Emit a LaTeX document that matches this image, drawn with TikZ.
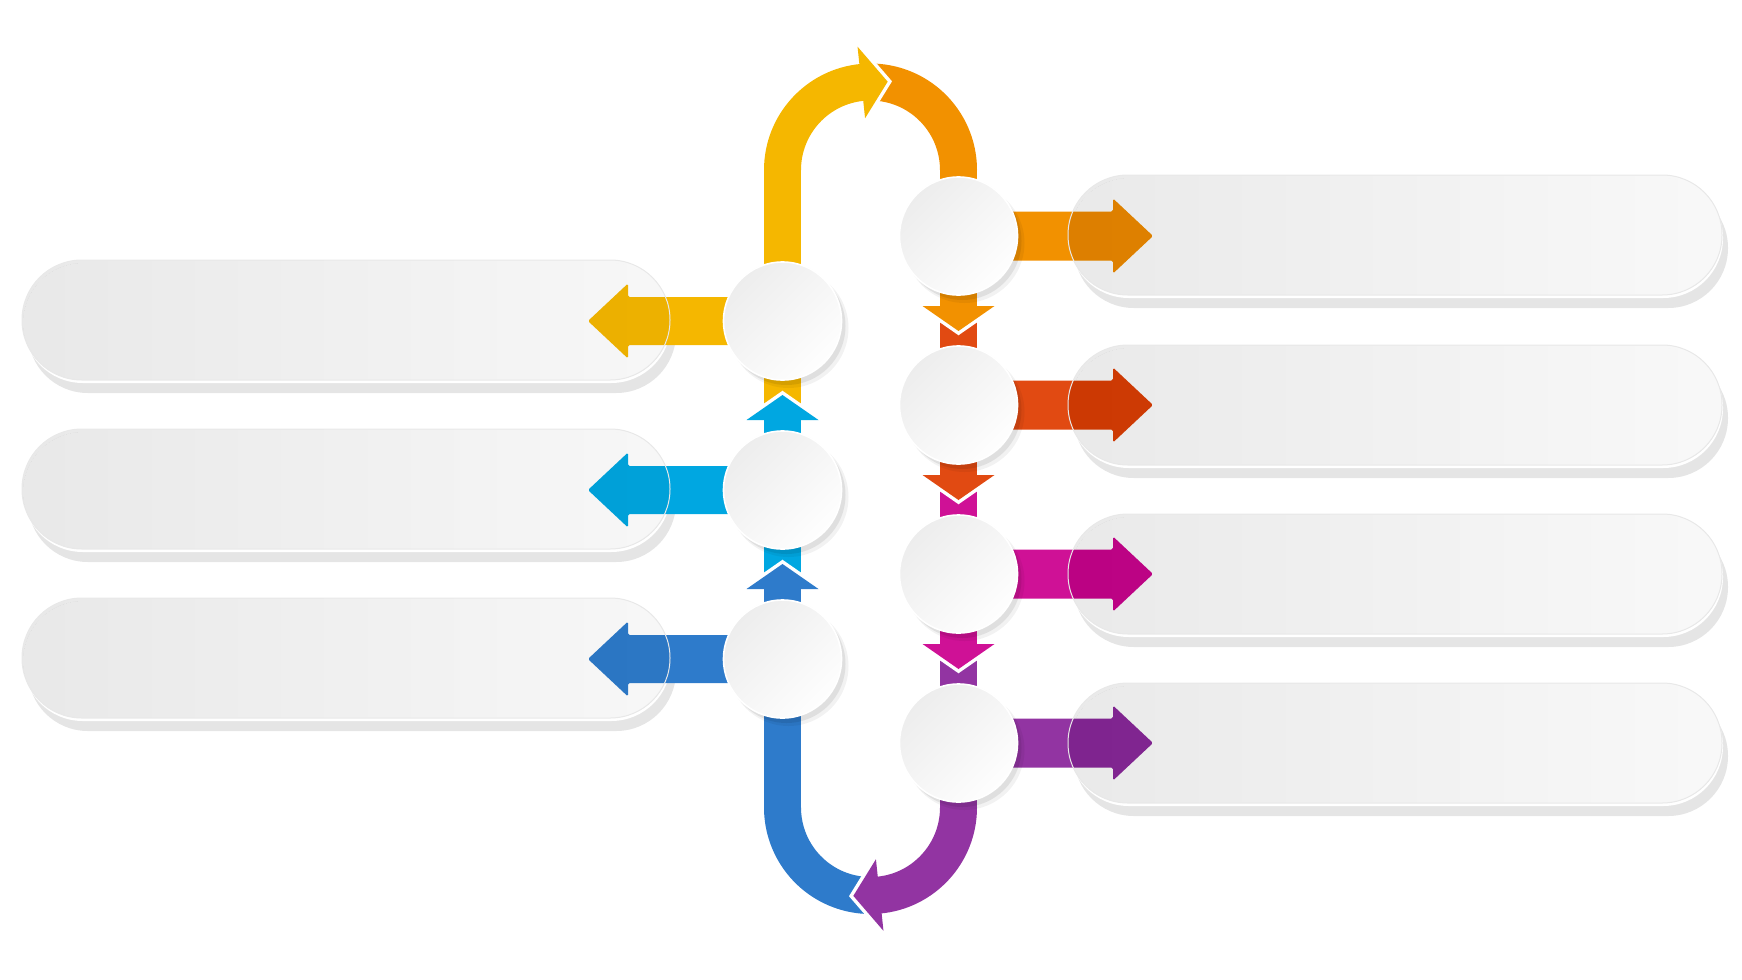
\documentclass[tikz,border=0pt]{standalone}
\usetikzlibrary{calc}
\definecolor{cY}{HTML}{F5B700}
\definecolor{cO}{HTML}{F29100}
\definecolor{cR}{HTML}{E14A12}
\definecolor{cM}{HTML}{CF1196}
\definecolor{cP}{HTML}{9234A2}
\definecolor{cC}{HTML}{00A7E1}
\definecolor{cB}{HTML}{2E7BCB}
\definecolor{boxshadow}{HTML}{E5E5E5}
\definecolor{circA}{HTML}{EDEDED}
\definecolor{circB}{HTML}{FEFEFE}

\newcommand\boxbase[4]{%
  \fill[boxshadow, pill] (#1+6,#2+13) rectangle (#3+6,#4+13);
  \fill[white, pill] (#1+1,#2+3) rectangle (#3+1,#4+3);
}
\newcommand\boxtop[5]{%
  \begin{scope}
    \clip[pill] (#1,#2) rectangle (#3,#4);
    \fill[black, opacity=#5] (#1,#2) rectangle (#3,#4);
    \foreach \k in {1,...,14} {\fill[black, opacity=0.0033] (#1,#2) rectangle ({#1+(#3-#1)*\k/15},#4);}
  \end{scope}
  \draw[black!9, line width=0.5pt, pill] (#1,#2) rectangle (#3,#4);
}
\newcommand\harrowL[2]{%
  \fill[#1, rounded corners=0.8pt] (782.5,#2-24) -- (628,#2-24) -- (628,#2-37.5) -- (588,#2) -- (628,#2+37.5) -- (628,#2+24) -- (782.5,#2+24) -- cycle;
}
\newcommand\harrowR[2]{%
  \fill[#1, rounded corners=0.8pt] (958.5,#2-24.5) -- (1113,#2-24.5) -- (1113,#2-37.5) -- (1153,#2) -- (1113,#2+37.5) -- (1113,#2+24.5) -- (958.5,#2+24.5) -- cycle;
}
\newcommand\chevUp[2]{% color, upper circle centre y ; x = 782.5
  \draw[gapline] (746.5,#2+99) -- (782.5,#2+74) -- (818.5,#2+99);
  \fill[#1] (746.5,#2+99) -- (782.5,#2+74) -- (818.5,#2+99) -- cycle;
}
\newcommand\chevDown[2]{% color, upper circle centre y ; x = 958.5
  \draw[gapline] (922.5,#2+70) -- (958.5,#2+95) -- (994.5,#2+70);
  \fill[#1] (922.5,#2+70) -- (958.5,#2+95) -- (994.5,#2+70) -- cycle;
}

\begin{document}
\begin{tikzpicture}[x=0.5pt, y=-0.5pt,
  pill/.style={rounded corners=29.9pt},
  gapline/.style={white, line width=3.5pt},
  circ/.style={circle, minimum size=59pt, inner sep=0pt, draw=white, line width=0.8pt,
               top color=circA, bottom color=circB, shading angle=45}]
\useasboundingbox (0,0) rectangle (1742,980);

% centres
\coordinate (A) at (870.5,170);
\coordinate (B) at (870.5,807.5);
\coordinate (l1) at (782.5,321);
\coordinate (l2) at (782.5,490);
\coordinate (l3) at (782.5,659);
\coordinate (r1) at (958.5,236);
\coordinate (r2) at (958.5,405);
\coordinate (r3) at (958.5,574);
\coordinate (r4) at (958.5,743);

% label boxes: shadow and base
\boxbase{22}{260}{670}{380}
\boxbase{22}{429}{670}{549}
\boxbase{22}{598}{670}{718}
\boxbase{1068}{175}{1722}{295}
\boxbase{1068}{345}{1722}{465}
\boxbase{1068}{514}{1722}{634}
\boxbase{1068}{683}{1722}{803}

% arcs
\fill[cO] ($(A)+(0:106.5)$) arc[start angle=0, end angle=-92, radius=106.5]
   -- ($(A)+(-92:69.5)$) arc[start angle=-92, end angle=0, radius=69.5] -- cycle;
\fill[cY] ($(A)+(-180:106.5)$) arc[start angle=-180, end angle=-95, radius=106.5]
   -- ($(A)+(-95:69.5)$) arc[start angle=-95, end angle=-180, radius=69.5] -- cycle;
\fill[cB] ($(B)+(-180:106.5)$) arc[start angle=-180, end angle=-272, radius=106.5]
   -- ($(B)+(-272:69.5)$) arc[start angle=-272, end angle=-180, radius=69.5] -- cycle;
\fill[cP] ($(B)+(-360:106.5)$) arc[start angle=-360, end angle=-275, radius=106.5]
   -- ($(B)+(-275:69.5)$) arc[start angle=-275, end angle=-360, radius=69.5] -- cycle;

% vertical bars
\fill[cY] (764,169) rectangle (801,410);
\fill[cC] (764,412) rectangle (801,579);
\fill[cB] (764,581) rectangle (801,808.5);
\fill[cO] (940,169) rectangle (977,312);
\fill[cR] (940,314) rectangle (977,481);
\fill[cM] (940,483) rectangle (977,650);
\fill[cP] (940,652) rectangle (977,808.5);

% chevrons
\chevUp{cC}{321}
\chevUp{cB}{490}
\chevDown{cO}{236}
\chevDown{cR}{405}
\chevDown{cM}{574}

% arc heads
\draw[gapline] ($(A)+(-96:124)$) -- ($(A)+(-79:90)$) -- ($(A)+(-96:52)$);
\fill[cY] ($(A)+(-96:124)$) -- ($(A)+(-79:90)$) -- ($(A)+(-96:52)$) -- cycle;
\draw[gapline] ($(B)+(-276:124)$) -- ($(B)+(-259:90)$) -- ($(B)+(-276:52)$);
\fill[cP] ($(B)+(-276:124)$) -- ($(B)+(-259:90)$) -- ($(B)+(-276:52)$) -- cycle;

% horizontal arrows
\harrowL{cY}{321}
\harrowL{cC}{490}
\harrowL{cB}{659}
\harrowR{cO}{236}
\harrowR{cR}{405}
\harrowR{cM}{574}
\harrowR{cP}{743}

% label boxes: translucent tops
\boxtop{22}{260}{670}{380}{0.03}
\boxtop{22}{429}{670}{549}{0.03}
\boxtop{22}{598}{670}{718}{0.03}
\boxtop{1068}{175}{1722}{295}{0.026}
\boxtop{1068}{345}{1722}{465}{0.026}
\boxtop{1068}{514}{1722}{634}{0.026}
\boxtop{1068}{683}{1722}{803}{0.026}

% circle shadows (translucent, darken what lies under them)
\foreach \c in {l1,l2,l3,r1,r2,r3,r4} {
  \fill[black, opacity=0.05] ($(\c)+(6,7)$) circle[radius=60];
  \fill[black, opacity=0.08] ($(\c)+(4,5)$) circle[radius=59];
}
% circles
\node[circ] (nl1) at (l1) {};
\node[circ] (nl2) at (l2) {};
\node[circ] (nl3) at (l3) {};
\node[circ] (nr1) at (r1) {};
\node[circ] (nr2) at (r2) {};
\node[circ] (nr3) at (r3) {};
\node[circ] (nr4) at (r4) {};
\end{tikzpicture}
\end{document}
